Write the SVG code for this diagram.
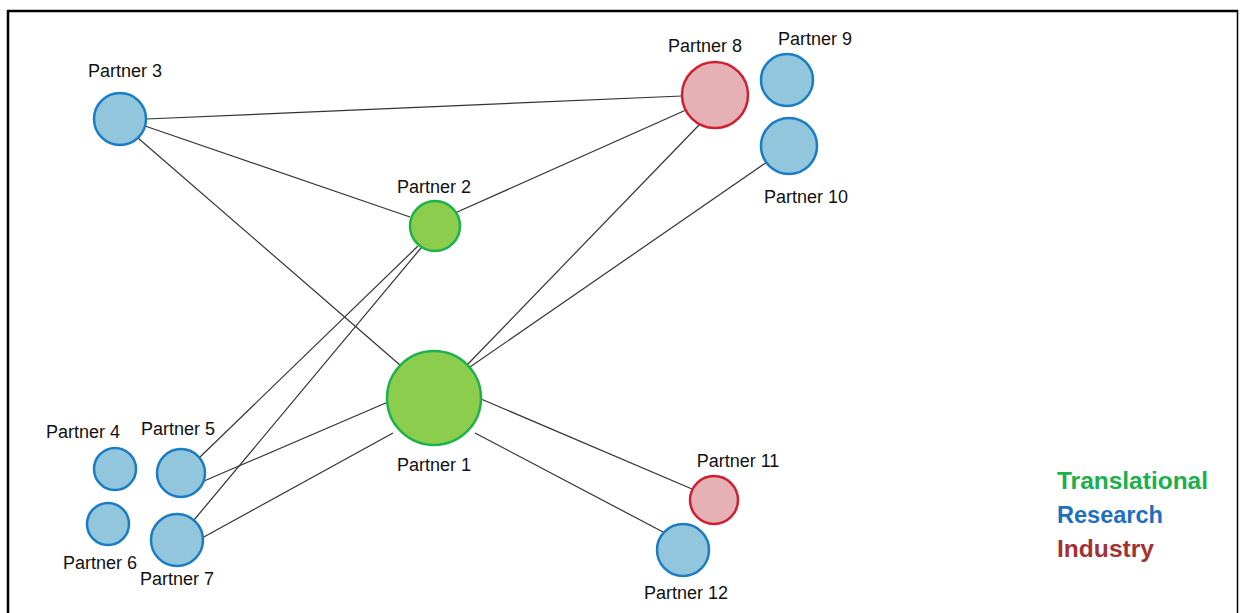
<svg xmlns="http://www.w3.org/2000/svg" width="1240" height="613" viewBox="0 0 1240 613">
<style>
.frame{stroke:#000;fill:none}
.edge{stroke:#333;stroke-width:1.2;fill:none}
.r{fill:#92c6dc;stroke:#1a7cc4;stroke-width:2.5}
.t{fill:#8dcd4e;stroke:#1db34c;stroke-width:2.5}
.i{fill:#e5b1b5;stroke:#cf1f30;stroke-width:2.5}
.lbl{font-family:"Liberation Sans",Arial,sans-serif;font-size:18px;fill:#111;text-anchor:middle}
.leg{font-family:"Liberation Sans",Arial,sans-serif;font-size:23px;font-weight:bold}
</style>
<rect width="1240" height="613" fill="#fff"/>
<g id="frame">
<line class="frame" x1="7" y1="11" x2="1238" y2="11" stroke-width="2.5"/>
<line class="frame" x1="8" y1="10" x2="8" y2="613" stroke-width="2.5"/>
<line class="frame" x1="1237.5" y1="10" x2="1237.5" y2="613" stroke-width="1.5"/>
</g>
<g id="connectors">
<line class="edge" x1="146" y1="119" x2="682" y2="96"/>
<line class="edge" x1="145" y1="126" x2="410" y2="217"/>
<line class="edge" x1="138" y1="138" x2="400" y2="365"/>
<line class="edge" x1="455" y1="213" x2="686" y2="110"/>
<line class="edge" x1="418" y1="246" x2="199" y2="458"/>
<line class="edge" x1="421" y1="248" x2="194" y2="520"/>
<line class="edge" x1="700" y1="124" x2="467" y2="365"/>
<line class="edge" x1="767" y1="162" x2="470" y2="367"/>
<line class="edge" x1="388" y1="402" x2="204" y2="481"/>
<line class="edge" x1="393" y1="433" x2="202" y2="538"/>
<line class="edge" x1="481" y1="399" x2="692" y2="489"/>
<line class="edge" x1="475" y1="433" x2="663" y2="532"/>
</g>
<g id="p1"><circle class="t" cx="434" cy="398" r="47"/><text class="lbl" x="434" y="471">Partner 1</text></g>
<g id="p2"><circle class="t" cx="435" cy="226" r="25"/><text class="lbl" x="434" y="193">Partner 2</text></g>
<g id="p3"><circle class="r" cx="120" cy="119" r="26"/><text class="lbl" x="125" y="77">Partner 3</text></g>
<g id="p4"><circle class="r" cx="115" cy="469" r="21"/><text class="lbl" x="83" y="438">Partner 4</text></g>
<g id="p5"><circle class="r" cx="181" cy="473" r="24"/><text class="lbl" x="178" y="435">Partner 5</text></g>
<g id="p6"><circle class="r" cx="108" cy="524" r="21"/><text class="lbl" x="100" y="569">Partner 6</text></g>
<g id="p7"><circle class="r" cx="177" cy="540" r="26"/><text class="lbl" x="177" y="585">Partner 7</text></g>
<g id="p8"><circle class="i" cx="715" cy="95" r="33"/><text class="lbl" x="705" y="52">Partner 8</text></g>
<g id="p9"><circle class="r" cx="787" cy="80" r="26"/><text class="lbl" x="815" y="45">Partner 9</text></g>
<g id="p10"><circle class="r" cx="789" cy="146" r="28"/><text class="lbl" x="806" y="203">Partner 10</text></g>
<g id="p11"><circle class="i" cx="714" cy="500" r="24"/><text class="lbl" x="738" y="467">Partner 11</text></g>
<g id="p12"><circle class="r" cx="683" cy="550" r="26"/><text class="lbl" x="686" y="599">Partner 12</text></g>
<g id="legend">
<text class="leg" x="1057" y="489" fill="#1bb04e" textLength="151" lengthAdjust="spacingAndGlyphs">Translational</text>
<text class="leg" x="1057" y="523" fill="#1e6fbf" textLength="106" lengthAdjust="spacingAndGlyphs">Research</text>
<text class="leg" x="1057" y="557" fill="#a33234" textLength="97" lengthAdjust="spacingAndGlyphs">Industry</text>
</g>
</svg>
